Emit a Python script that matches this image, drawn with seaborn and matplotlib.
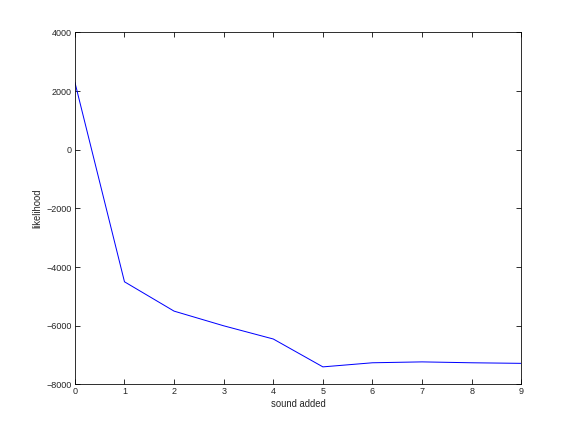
import matplotlib
matplotlib.use('Agg')
from matplotlib import pyplot as plt
import pandas as pd
import seaborn as sns

sound_added = [0, 1, 2, 3, 4, 5, 6, 7, 8, 9]
likelihood = [2300, -4500, -5500, -6000, -6450, -7400, -7260, -7230, -7260, -7280]

df = pd.DataFrame({'sound added': sound_added, 'likelihood': likelihood})

sns.set_style('ticks')
plt.rcParams['font.family'] = ['Liberation Sans', 'DejaVu Sans']
plt.rcParams['xtick.direction'] = 'in'
plt.rcParams['ytick.direction'] = 'in'

f = plt.figure(figsize=(8, 6), dpi=72)
ax = f.add_axes([0.13, 0.11, 0.775, 0.815])
sns.lineplot(data=df, x='sound added', y='likelihood', color='blue', linewidth=1, ax=ax)
ax.set_xlim(0, 9)
ax.set_ylim(-8000, 4000)
ax.set_xticks(range(0, 10))
ax.set_yticks(range(-8000, 4001, 2000))
ax.tick_params(top=True, right=True, labelsize=9, length=5, width=0.8, color='black', pad=3)
for s in ax.spines.values():
    s.set_linewidth(0.8)
    s.set_color('black')
ax.set_xlabel('sound added', fontsize=9.5, labelpad=3)
ax.set_ylabel('likelihood', fontsize=9.5, labelpad=4)
f.savefig('out.png', dpi=72)
